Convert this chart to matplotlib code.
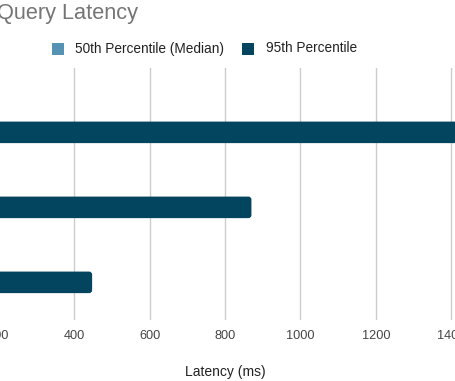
import matplotlib
matplotlib.use("Agg")
import matplotlib.pyplot as plt
from matplotlib.patches import FancyBboxPatch, Rectangle
import numpy as np

plt.rcParams['font.family'] = ['Liberation Sans', 'DejaVu Sans']

title = "Query Latency"
categories = ["Query A", "Query B", "Query C"]
series_names = ["50th Percentile (Median)", "95th Percentile"]
p50 = [150, 110, 60]
p95 = [1520, 870, 448]
xticks = [200, 400, 600, 800, 1000, 1200, 1400]
xlabel = "Latency (ms)"
colors = ["#5592b4", "#03445f"]

W, H = 456, 381
fig = plt.figure(figsize=(W / 100, H / 100), dpi=100)
fig.patch.set_facecolor("white")

# plot area (extends beyond the cropped canvas)
left_px, right_px, top_px, bot_px = -77, 527, 68, 320
ax = fig.add_axes([left_px / W, 1 - bot_px / H, (right_px - left_px) / W, (bot_px - top_px) / H])
ax.set_facecolor("none")

y = np.arange(len(categories))
h = 0.287
off = 0.145
b1 = ax.barh(y - off, p50, height=h, color=colors[0])
b2 = ax.barh(y + off, p95, height=h, color=colors[1])

ax.set_xlim(0, 1600)
ax.set_ylim(2.647, -0.713)

# rounded bar ends
px_per_x = (right_px - left_px) / 1600
px_per_y = (bot_px - top_px) / (2.647 + 0.713)
r_px = 3.0
for bars, c in ((b1, colors[0]), (b2, colors[1])):
    for p in bars:
        x0, y0, w, hh = p.get_x(), p.get_y(), p.get_width(), p.get_height()
        p.set_visible(False)
        fb = FancyBboxPatch((x0, y0), w, hh,
                            boxstyle=f"round,pad=0,rounding_size={r_px / px_per_x}",
                            mutation_aspect=(px_per_x / px_per_y),
                            facecolor=c, edgecolor="none", zorder=3)
        ax.add_patch(fb)

ax.set_xticks(xticks)
ax.set_xticklabels([str(t) for t in xticks], fontsize=9.2, color="#444444")
ax.tick_params(axis="x", length=0, pad=7.5)
ax.set_yticks([])
ax.grid(axis="x", color="#cccccc", linewidth=1, zorder=0)
ax.set_axisbelow(True)
for s in ax.spines.values():
    s.set_visible(False)
ax.set_xlabel(xlabel, fontsize=10, color="#222222", labelpad=16)

# title
fig.text(-3 / W, 1 - 13 / H, title, fontsize=15.7, color="#757575", ha="left", va="center")

# legend
leg = [(52, 75), (242, 266)]
for (sx, tx), name, c in zip(leg, series_names, colors):
    fig.add_artist(Rectangle((sx / W, 1 - 55 / H), 12 / W, 12 / H,
                             transform=fig.transFigure, facecolor=c, edgecolor="none"))
    fig.text(tx / W, 1 - 48.5 / H, name, fontsize=9.8, color="#222222", ha="left", va="center")

fig.savefig("out.png", dpi=100)
